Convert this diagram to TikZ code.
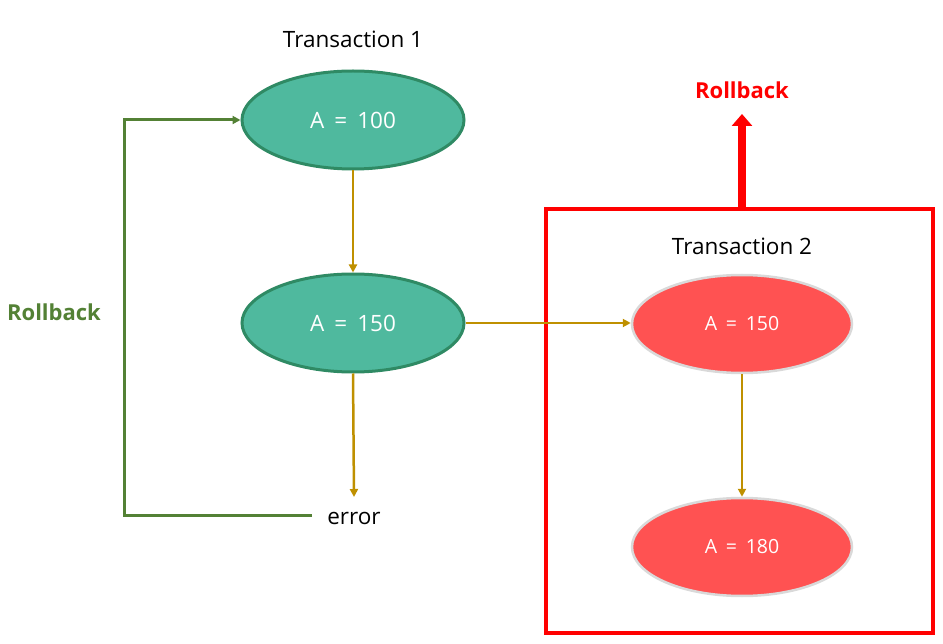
\documentclass[tikz,border=0pt]{standalone}
\usepackage{fontspec}
\setmainfont{Open Sans}
\usetikzlibrary{arrows.meta,shapes.geometric}
\definecolor{tgreen}{HTML}{4FB99E}
\definecolor{tgreenb}{HTML}{2F8A64}
\definecolor{tred}{HTML}{FF5252}
\definecolor{tgray}{HTML}{D9D9D9}
\definecolor{gold}{HTML}{BF9000}
\definecolor{olive}{HTML}{538135}
\newcommand{\eqsp}{\hspace{0.45em}}
\begin{document}
\begin{tikzpicture}[x=1pt,y=-1pt,
  gnode/.style={ellipse,draw=tgreenb,line width=3pt,fill=tgreen,minimum width=222pt,minimum height=98pt,inner sep=0pt,text=white,font=\fontsize{22.5}{26}\selectfont},
  rnode/.style={ellipse,draw=tgray,line width=2.5pt,fill=tred,minimum width=220pt,minimum height=98pt,inner sep=0pt,text=white,font=\fontsize{19.5}{23}\selectfont},
  flow/.style={draw=gold,line width=2.5pt,-{Triangle[length=8pt,width=8pt]}},
  lbl/.style={font=\fontsize{22.5}{26}\selectfont,inner sep=0pt},
  rb/.style={font=\bfseries\fontsize{22}{26}\selectfont,inner sep=0pt}]
\useasboundingbox (0,0) rectangle (943,644);
\node[lbl] (t1) at (353,39) {Transaction 1};
\node[gnode] (a1) at (353,120) {A\eqsp=\eqsp100};
\node[gnode] (a2) at (353,323) {A\eqsp=\eqsp150};
\node[lbl] (err) at (354,518) {error};
\coordinate (errin) at (354,497);
\coordinate (errl) at (312,515);
\coordinate (c1) at (124,515);
\coordinate (c2) at (124,120);
\node[rb,text=olive] (rb1) at (54,312) {Rollback};
\draw[flow] (a1.south) -- (a2.north);
\draw[flow] (a2.south) -- (errin);
\draw[olive,line width=3pt,-{Triangle[length=8pt,width=8pt]}] (errl) -- (c1) -- (c2) -- (a1.west);
\node[draw=red,line width=4pt,minimum width=387pt,minimum height=424pt,inner sep=0pt] (box) at (739.5,421) {};
\node[lbl] (t2) at (742,246) {Transaction 2};
\node[rnode] (b1) at (742,324) {A\eqsp=\eqsp150};
\node[rnode] (b2) at (742,547) {A\eqsp=\eqsp180};
\draw[flow] (a2.east) -- (a2.east -| b1.west);
\draw[flow] (b1.south) -- (b2.north);
\coordinate (rtop) at (742,114);
\draw[red,line width=8pt,-{Triangle[length=12pt,width=20pt]}] (742,209) -- (rtop);
\node[rb,text=red] (rb2) at (742,90) {Rollback};
\end{tikzpicture}
\end{document}
